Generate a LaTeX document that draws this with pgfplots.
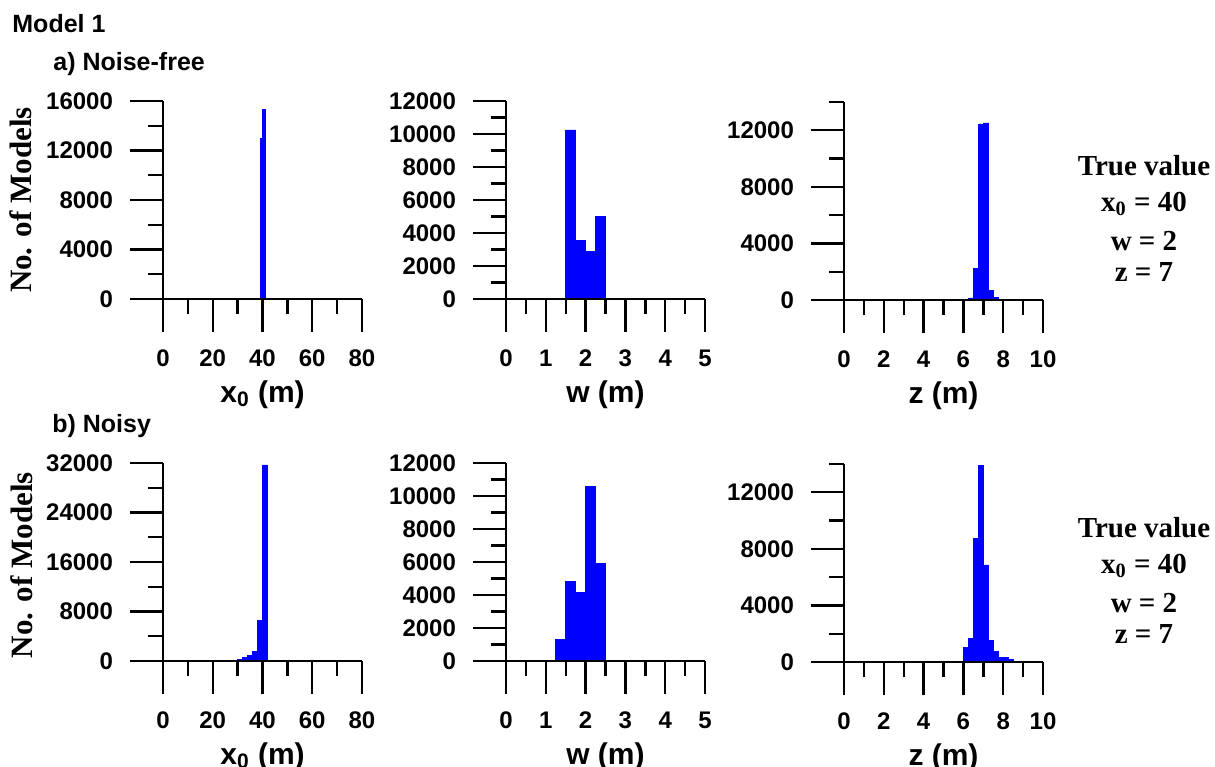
\documentclass[border=0pt]{standalone}
\usepackage{pgfplots}
\pgfplotsset{compat=1.18}
\usepackage{fontspec}
\setmainfont{Liberation Sans}
\newfontfamily\tnr{Liberation Serif}

\pgfplotsset{
  hist/.style={
    scale only axis, width=99.5pt, height=99pt, anchor=south west,
    axis x line*=bottom, axis y line*=left,
    axis line style={line width=1.2pt, -},
    tick style={line width=1.2pt, black},
    tick align=outside,
    major tick length=16.5pt, minor tick length=7.5pt,
    enlargelimits=false, xmin=0, ymin=0,
    scaled ticks=false,
    axis on top,
    /pgf/number format/assume math mode=true,
    /pgf/number format/set thousands separator={},
    tick label style={font=\fontsize{12}{14}\selectfont\bfseries},
    xticklabel style={yshift=-5.5pt},
    yticklabel style={xshift=-5pt},
    every axis x label/.style={at={(axis description cs:0.5,0)}, anchor=base, yshift=-51.5pt, font=\fontsize{15}{18}\selectfont\bfseries},
    clip=false,
  },
  bars/.style={ybar interval, fill=blue, draw=blue, line width=0.3pt},
}

\begin{document}
\begin{tikzpicture}
\path[use as bounding box] (0,0) rectangle (607.5pt,-383pt);

% ---------- Row a ----------
\begin{axis}[hist, at={(81.5pt,-149.5pt)},
  xmax=80, ymax=16000,
  xtick={0,20,40,60,80}, minor xtick={10,30,50,70},
  ytick={0,4000,8000,12000,16000}, minor ytick={2000,6000,10000,14000},
  xlabel={x\textsubscript{0} (m)}]
\addplot[bars] coordinates {(39,13000) (40,15300) (41,0)};
\end{axis}

\begin{axis}[hist, at={(253pt,-149.5pt)},
  xmax=5, ymax=12000,
  xtick={0,1,2,3,4,5}, minor xtick={0.5,1.5,2.5,3.5,4.5},
  ytick={0,2000,4000,6000,8000,10000,12000}, minor ytick={1000,3000,5000,7000,9000,11000},
  xlabel={w (m)}]
\addplot[bars] coordinates {(1.25,60) (1.5,10250) (1.75,3560) (2.0,2900) (2.25,4990) (2.5,0)};
\end{axis}

\begin{axis}[hist, at={(422pt,-150pt)},
  xmax=10, ymax=14000,
  xtick={0,2,4,6,8,10}, minor xtick={1,3,5,7,9},
  ytick={0,4000,8000,12000}, minor ytick={2000,6000,10000,14000},
  xlabel={z (m)}]
\addplot[bars] coordinates {(6.0,60) (6.25,150) (6.5,2260) (6.75,12450) (7.0,12520) (7.25,700) (7.5,200) (7.75,60) (8.0,0)};
\end{axis}

% ---------- Row b ----------
\begin{axis}[hist, at={(81.5pt,-330.5pt)},
  xmax=80, ymax=32000,
  xtick={0,20,40,60,80}, minor xtick={10,30,50,70},
  ytick={0,8000,16000,24000,32000}, minor ytick={4000,12000,20000,28000},
  xlabel={x\textsubscript{0} (m)}]
\addplot[bars] coordinates {(28,60) (30,200) (32,530) (34,970) (36,1600) (38,6500) (40,31700) (42,150) (44,80) (46,0)};
\end{axis}

\begin{axis}[hist, at={(253pt,-330.5pt)},
  xmax=5, ymax=12000,
  xtick={0,1,2,3,4,5}, minor xtick={0.5,1.5,2.5,3.5,4.5},
  ytick={0,2000,4000,6000,8000,10000,12000}, minor ytick={1000,3000,5000,7000,9000,11000},
  xlabel={w (m)}]
\addplot[bars] coordinates {(1.25,1300) (1.5,4830) (1.75,4180) (2.0,10590) (2.25,5940) (2.5,0)};
\end{axis}

\begin{axis}[hist, at={(422pt,-331pt)},
  xmax=10, ymax=14000,
  xtick={0,2,4,6,8,10}, minor xtick={1,3,5,7,9},
  ytick={0,4000,8000,12000}, minor ytick={2000,6000,10000,14000},
  xlabel={z (m)}]
\addplot[bars] coordinates {(6.0,1020) (6.25,1660) (6.5,8760) (6.75,13900) (7.0,6870) (7.25,1520) (7.5,740) (7.75,310) (8.0,300) (8.25,190) (8.5,0)};
\end{axis}

% ---------- Texts ----------
\node[anchor=base west, font=\fontsize{12.5}{15}\selectfont\bfseries, inner sep=0pt] at (6pt,-16pt) {Model 1};
\node[anchor=base west, font=\fontsize{12.5}{15}\selectfont\bfseries, inner sep=0pt] at (26.5pt,-35pt) {a) Noise-free};
\node[anchor=base west, font=\fontsize{12.5}{15}\selectfont\bfseries, inner sep=0pt] at (26pt,-216pt) {b) Noisy};

\node[rotate=90, font=\tnr\bfseries\fontsize{15.5}{18}\selectfont, inner sep=0pt] at (10.5pt,-100pt) {No. of Models};
\node[rotate=90, font=\tnr\bfseries\fontsize{15.5}{18}\selectfont, inner sep=0pt] at (11pt,-282.5pt) {No. of Models};

\foreach \dy in {0,181}{
  \begin{scope}[yshift=-\dy pt, every node/.style={anchor=base, inner sep=0pt, font=\tnr\bfseries\fontsize{14.5}{17}\selectfont}]
    \node at (572pt,-87.5pt) {True value};
    \node at (572pt,-105.5pt) {x\textsubscript{0} = 40};
    \node at (572pt,-125pt) {w = 2};
    \node at (572pt,-140.5pt) {z = 7};
  \end{scope}
}
\end{tikzpicture}
\end{document}
